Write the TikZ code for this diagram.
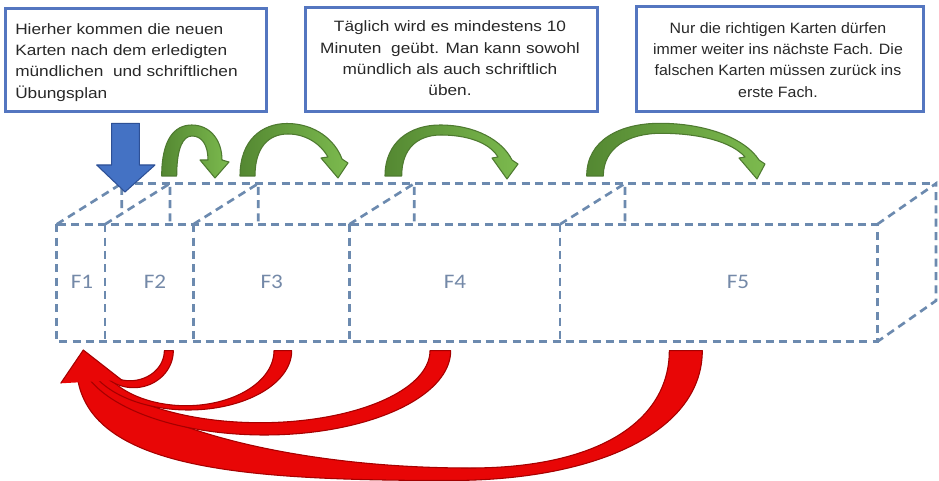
\documentclass[tikz,border=0pt]{standalone}
\usepackage{fontspec}
\setmainfont{Liberation Sans}[FakeStretch=1.15]
\newfontfamily\narrowfont{Liberation Sans}[FakeStretch=1.06]
\newfontfamily\labelfont{Carlito}[FakeStretch=1.12]
\definecolor{boxblue}{RGB}{84,118,192}
\definecolor{dashblue}{RGB}{108,138,175}
\definecolor{labelgray}{RGB}{116,137,168}
\definecolor{arrowblue}{RGB}{68,114,196}
\definecolor{arrowblueline}{RGB}{45,80,150}
\definecolor{gdark}{RGB}{84,136,50}
\definecolor{glight}{RGB}{124,186,78}
\definecolor{gline}{RGB}{78,122,48}
\definecolor{redfill}{RGB}{232,6,6}
\definecolor{redline}{RGB}{165,0,0}
\definecolor{txtgray}{RGB}{40,40,40}
\newcommand{\redband}[8]{%
  \pgfmathsetmacro{\rbSo}{(#4-350.7)/#2}%
  \pgfmathsetmacro{\rbCo}{-sqrt(1-\rbSo*\rbSo)}%
  \pgfmathsetmacro{\rbRxo}{(#1-#3)/(1-\rbCo)}%
  \pgfmathsetmacro{\rbCxo}{#1-\rbRxo}%
  \pgfmathsetmacro{\rbTeo}{180-asin(\rbSo)}%
  \pgfmathsetmacro{\rbSi}{(#8-350.7)/#6}%
  \pgfmathsetmacro{\rbCi}{-sqrt(1-\rbSi*\rbSi)}%
  \pgfmathsetmacro{\rbRxi}{(#5-#7)/(1-\rbCi)}%
  \pgfmathsetmacro{\rbCxi}{#5-\rbRxi}%
  \pgfmathsetmacro{\rbTei}{180-asin(\rbSi)}%
  \path[rarrow] plot[domain=0:\rbTeo,samples=90] ({\rbCxo+\rbRxo*cos(\x)},{350.7+#2*sin(\x)})
     -- plot[domain=\rbTei:0,samples=90] ({\rbCxi+\rbRxi*cos(\x)},{350.7+#6*sin(\x)}) -- cycle;%
}
\begin{document}
\begin{tikzpicture}[x=0.75pt,y=-0.75pt,
  tbox/.style={draw=boxblue, line width=1.9pt, fill=white, inner sep=0pt, anchor=north west},
  btext/.style={inner sep=0pt, text=txtgray, font=\fontsize{11.25pt}{15.9pt}\selectfont},
  dashline/.style={draw=dashblue, line width=2pt, dash pattern=on 6pt off 4pt},
  flabel/.style={text=labelgray, font=\labelfont\fontsize{15.5pt}{18pt}\selectfont, anchor=base, inner sep=0pt},
  garrow/.style={draw=gline, line width=0.8pt, left color=gdark, right color=glight, line join=round},
  barrow/.style={draw=arrowblueline, line width=0.8pt, fill=arrowblue, line join=round},
  rarrow/.style={draw=redline, line width=0.8pt, fill=redfill, line join=round}]
\useasboundingbox (0,0) rectangle (939,481);
\fill[white] (0,0) rectangle (939,481);

% text boxes
\node[tbox, minimum width=195.75pt, minimum height=77.25pt] (box1) at (4,7) {};
\node[tbox, minimum width=219pt, minimum height=78pt] (box2) at (304,6) {};
\node[tbox, minimum width=215.25pt, minimum height=78.75pt] (box3) at (635,5) {};
\node[btext, anchor=north west, align=left] (t1) at (15,23.3)
  {Hierher kommen die neuen\\Karten nach dem erledigten\\mündlichen\ \ und schriftlichen\\Übungsplan};
\node[btext, anchor=north, align=center] (t2) at (450,20.7)
  {Täglich wird es mindestens 10\\Minuten\ \ geübt. Man kann sowohl\\mündlich als auch schriftlich\\üben.};
\node[btext, anchor=north, align=center, font=\narrowfont\fontsize{11.25pt}{15.9pt}\selectfont] (t3) at (778,22.3)
  {Nur die richtigen Karten dürfen\\immer weiter ins nächste Fach. Die\\falschen Karten müssen zurück ins\\erste Fach.};

% dashed box
\draw[dashline] (121.7,183.5) -- (936,183.5);
\draw[dashline] (56.7,224.3) -- (121.7,183.5) -- (121.7,213.8);
\foreach \xx in {105,193.3,349.3,560}{
  \draw[dashline] (\xx,224.3) -- ({\xx+65},183.5) -- ({\xx+65},224.3);
}
\draw[dashline] (877.3,224.3) -- (936,183.5) -- (936,300.7) -- (877.3,341.7);
\draw[dashline] (56.7,224.3) rectangle (877.3,341.7);
\foreach \xx in {105,193.3,349.3,560}{
  \draw[dashline] (\xx,224.3) -- (\xx,341.7);
}

% labels
\node[flabel] (f1) at (82,288) {F1};
\node[flabel] (f2) at (155,288) {F2};
\node[flabel] (f3) at (271.7,288) {F3};
\node[flabel] (f4) at (455,288) {F4};
\node[flabel] (f5) at (738,288) {F5};

% blue arrow
\path[barrow] (111.7,123.3) -- (139.3,123.3) -- (139.3,165) -- (155,165) -- (125,192)
  -- (96.7,165) -- (111.7,165) -- cycle;

% green arrows
\path[garrow] (161.7,176) .. controls (161.7,140) and (174,125) .. (191.7,125)
  .. controls (210,125) and (222,140) .. (222,160) -- (229,162) -- (215,178) -- (200,160) -- (208,160)
  .. controls (208,145) and (202,136) .. (192,136) .. controls (183,136) and (176.7,148) .. (176.7,176) -- cycle;
\path[garrow] (240,176) .. controls (240,140) and (262,123.5) .. (287,123.5)
  .. controls (315,123.5) and (335,140) .. (342,159) -- (348,163) -- (338,178) -- (321,158) -- (328,157)
  .. controls (320,143) and (305,134) .. (288,134) .. controls (268,134) and (255,148) .. (255,176) -- cycle;
\path[garrow] (385,176) .. controls (385,142) and (410,125) .. (440,125)
  .. controls (475,125) and (502,140) .. (512,160) -- (518,164) -- (507,179) -- (492,158) -- (498,157)
  .. controls (489,142) and (466,135) .. (441,135) .. controls (418,135) and (401.7,148) .. (401.7,176) -- cycle;
\path[garrow] (586.7,176) .. controls (586.7,140) and (620,123.3) .. (660,123.3)
  .. controls (705,123.3) and (745,138) .. (759,160) -- (765,164) -- (757,179) -- (739,158) -- (745,157)
  .. controls (732,142) and (700,133.3) .. (661,133.3) .. controls (628,133.3) and (603.3,148) .. (603.3,176) -- cycle;

% red arrows
\path[rarrow] (702.3,350.7) .. controls (702.3,430) and (600,480.5) .. (450,480.5)
  .. controls (250,480.5) and (95,470) .. (78,381) -- (100,379)
  .. controls (150,430) and (300,468) .. (470,468)
  .. controls (600,468) and (669.3,420) .. (669.3,350.7) -- cycle;
\redband{450.7}{84.3}{90}{380}{430}{72}{104}{379}
\redband{291.7}{59.3}{98}{379.5}{274}{55}{110}{378.5}
\redband{173.3}{37}{108}{379}{164.3}{30}{117}{378.5}
\fill[redfill] (60.7,383.3) -- (83.3,350) -- (121.7,380) -- cycle;
\draw[redline, line width=0.8pt, line join=round] (60.7,383.3) -- (83.3,350) -- (121.7,380);
\end{tikzpicture}
\end{document}
